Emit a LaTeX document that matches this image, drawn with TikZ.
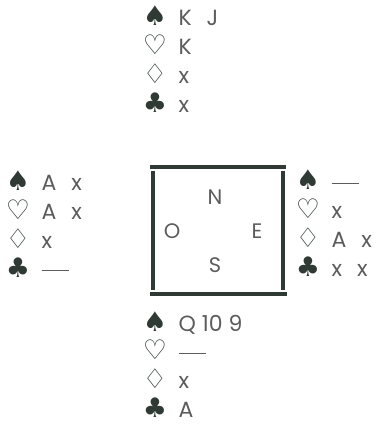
\documentclass[tikz,border=0pt]{standalone}
\usepackage{fontspec}
\setmainfont{Poppins}
\newfontfamily\suitfont{DejaVu Sans}
\usetikzlibrary{positioning}
\definecolor{ink}{HTML}{5C5C5C}
\definecolor{suitink}{HTML}{2E3A33}
\newcommand{\gap}{\hspace{15pt}}
\newcommand{\void}{\rule[6pt]{27pt}{1pt}}

\begin{document}
\begin{tikzpicture}[
    x=1pt, y=-1pt,
    node distance=12.3pt and 11pt,
    suit/.style={inner sep=0pt, minimum width=20pt, text height=16pt, text depth=0pt,
                 font=\suitfont\fontsize{27}{27}\selectfont, text=suitink},
    cards/.style={inner sep=0pt, text height=16pt, text depth=0pt,
                  font=\fontsize{22}{22}\selectfont, text=ink},
    compass/.style={inner sep=0pt, font=\fontsize{21}{21}\selectfont, text=ink},
    rim/.style={line width=4pt, draw=suitink}
  ]
  \useasboundingbox (0,0) rectangle (375,443);

  % north
  \node[suit] (nS) at (155,18) {♠};
  \node[suit, below=of nS] (nH) {♡};
  \node[suit, below=of nH] (nD) {♢};
  \node[suit, below=of nD] (nC) {♣};
  \node[cards, right=of nS] (nSc) {K\gap J};
  \node[cards, right=of nH] (nHc) {K};
  \node[cards, right=of nD] (nDc) {x};
  \node[cards, right=of nC] (nCc) {x};

  % west
  \node[suit] (wS) at (18,183) {♠};
  \node[suit, below=of wS] (wH) {♡};
  \node[suit, below=of wH] (wD) {♢};
  \node[suit, below=of wD] (wC) {♣};
  \node[cards, right=of wS] (wSc) {A\gap x};
  \node[cards, right=of wH] (wHc) {A\gap x};
  \node[cards, right=of wD] (wDc) {x};
  \node[cards, right=of wC] (wCc) {\void};

  % east
  \node[suit] (eS) at (308,182) {♠};
  \node[suit, below=of eS] (eH) {♡};
  \node[suit, below=of eH] (eD) {♢};
  \node[suit, below=of eD] (eC) {♣};
  \node[cards, right=of eS] (eSc) {\void};
  \node[cards, right=of eH] (eHc) {x};
  \node[cards, right=of eD] (eDc) {A\gap x};
  \node[cards, right=of eC] (eCc) {x\gap x};

  % south
  \node[suit] (sS) at (155,323) {♠};
  \node[suit, below=of sS] (sH) {♡};
  \node[suit, below=of sH] (sD) {♢};
  \node[suit, below=of sD] (sC) {♣};
  \node[cards, right=of sS] (sSc) {Q\hspace{6pt}10\hspace{6pt}9};
  \node[cards, right=of sH] (sHc) {\void};
  \node[cards, right=of sD] (sDc) {x};
  \node[cards, right=of sC] (sCc) {A};

  % table
  \draw[rim] (150,167) -- (286,167);
  \draw[rim] (150,294) -- (287,294);
  \draw[rim] (153,171) -- (153,290);
  \draw[rim] (283,171) -- (283,290);
  \node[compass] (N) at (215,197) {N};
  \node[compass] (O) at (172,231) {O};
  \node[compass] (E) at (257,231) {E};
  \node[compass] (S) at (215,265) {S};
\end{tikzpicture}
\end{document}
